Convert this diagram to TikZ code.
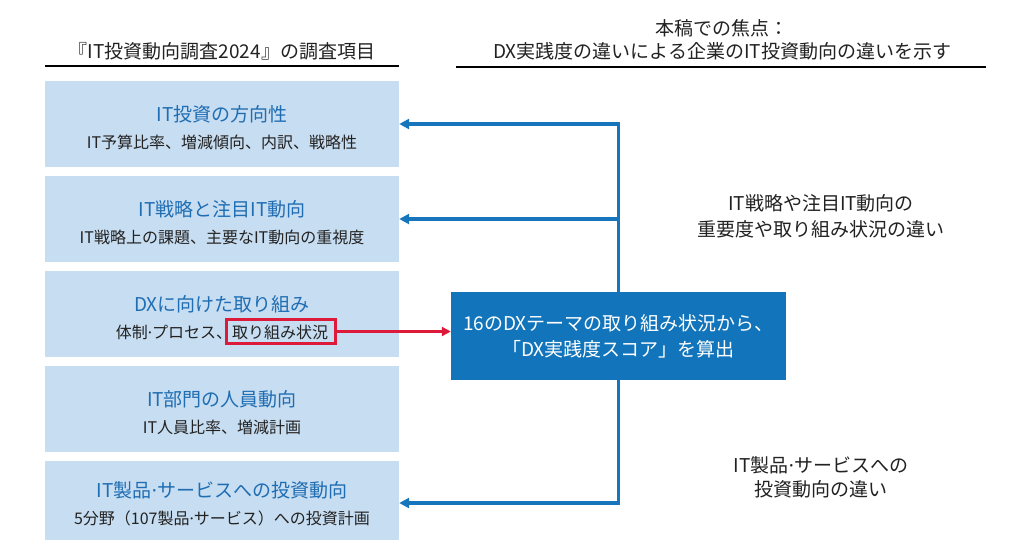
\documentclass[tikz,border=0pt]{standalone}
\usepackage{fontspec}
\setmainfont{Noto Sans CJK JP}
\newfontfamily\latinfont{Noto Sans}
\usepackage{tikz}
\usepackage{xcolor}
\usetikzlibrary{arrows.meta,positioning,calc}
\definecolor{BoxBlue}{HTML}{C7DDF1}
\definecolor{TitleBlue}{HTML}{1F6DB3}
\definecolor{DeepBlue}{HTML}{1274BA}
\definecolor{LineBlue}{HTML}{1675BB}
\definecolor{Crimson}{HTML}{DE1A3A}
\definecolor{Ink}{HTML}{222222}
\newcommand\mdot{{\latinfont ·}}

\begin{document}
\begin{tikzpicture}[x=1pt,y=-1pt,
  itembox/.style={fill=BoxBlue,minimum width=354pt,inner sep=0pt,align=center,
    text=Ink,font=\fontsize{16}{20}\selectfont},
  hdr/.style={text=Ink,align=center,font=\fontsize{19}{23}\selectfont},
  feed/.style={LineBlue,line width=3.2pt,-{Triangle[length=10pt,width=10pt]}},
  pick/.style={Crimson,line width=3pt,-{Triangle[length=9pt,width=9pt]}}]
  \fill[white] (0,0) rectangle (1030,558);
  \useasboundingbox (0,0) rectangle (1030,558);
  % headers
  \node[hdr] (hdrL) at (222,51) {『IT投資動向調査2024』の調査項目};
  \node[hdr] (hdrR) at (722,40) {本稿での焦点：\\DX実践度の違いによる企業のIT投資動向の違いを示す};
  \draw[line width=1.6pt] (45,66) -- (399,66);
  \draw[line width=1.6pt] (456,67) -- (986,67);
  % survey items
  \foreach \i/\y/\h/\ttl/\sub in {
      1/124/86/IT投資の方向性/IT予算比率、増減傾向、内訳、戦略性,
      2/219/86/IT戦略と注目IT動向/IT戦略上の課題、主要なIT動向の重視度,
      3/314/86/DXに向けた取り組み/体制\mdot プロセス、取り組み状況,
      4/409/86/IT部門の人員動向/IT人員比率、増減計画,
      5/500/79/IT製品\mdot サービスへの投資動向/5分野（107製品\mdot サービス）への投資計画} {
    \node[itembox,minimum height=\h pt] (b\i) at (222,\y)
      {\rule{0pt}{23pt}{\color{TitleBlue}\fontsize{19}{23}\selectfont \ttl}\\[7pt]\sub};
  }
  % score
  \node[fill=DeepBlue,text=white,minimum width=335pt,minimum height=88pt,align=center,
    font=\fontsize{19}{26}\selectfont] (score) at (618.5,336)
    {16のDXテーマの取り組み状況から、\\「DX実践度スコア」を算出};
  \node[draw=Crimson,line width=3pt,minimum width=109pt,minimum height=24pt] (hl) at (281,331.5) {};
  \draw[pick] (hl.east) -- (hl.east -| score.west);
  \coordinate (bot) at (618.5,503);
  \draw[feed] (score.north) -- (score.north |- b1.east) -- (b1.east);
  \draw[feed] (score.north |- b2.east) -- (b2.east);
  \draw[feed] (score.south) -- (bot) -- (bot -| b5.east);
  % focus notes
  \node[hdr,font=\fontsize{19}{26}\selectfont] (noteA) at (821,216) {IT戦略や注目IT動向の\\重要度や取り組み状況の違い};
  \node[hdr,font=\fontsize{19}{24}\selectfont] (noteB) at (821,477) {IT製品\mdot サービスへの\\投資動向の違い};
\end{tikzpicture}
\end{document}
